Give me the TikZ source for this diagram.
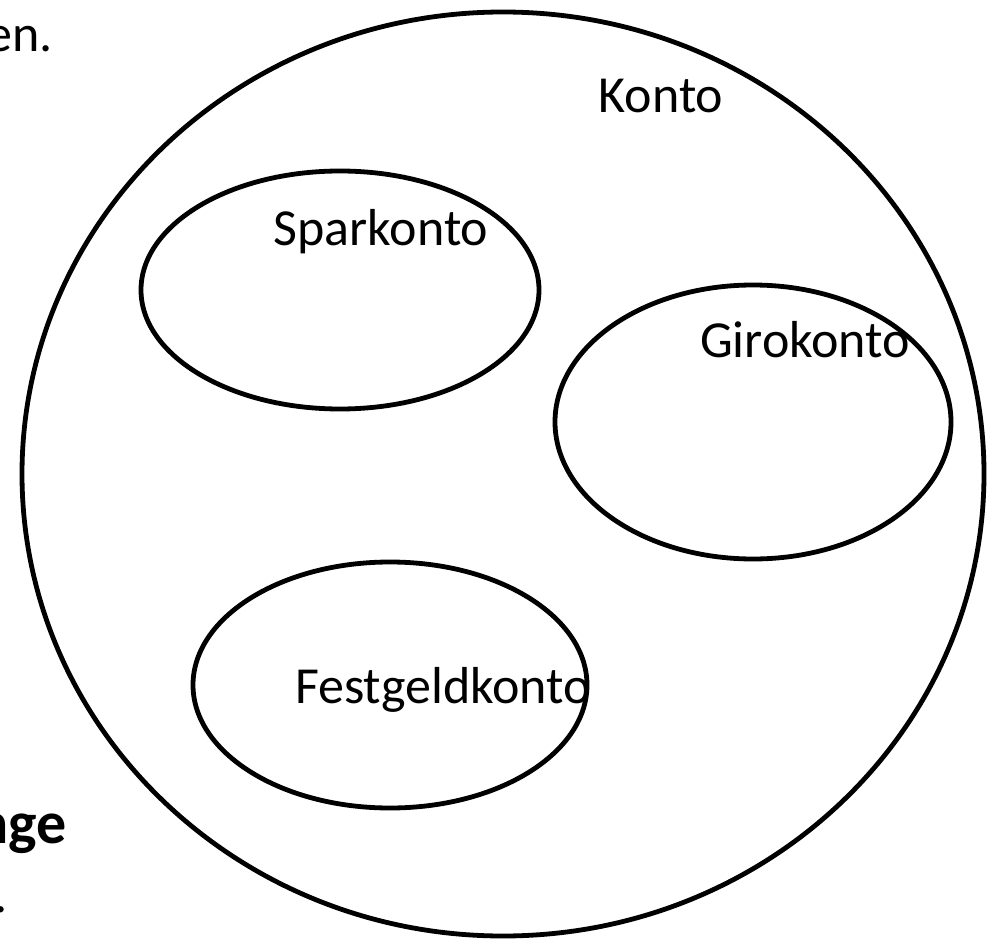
\documentclass[tikz,border=0pt]{standalone}
\usepackage{fontspec}
\setmainfont{Carlito}
\usetikzlibrary{shapes.geometric}
\begin{document}
\begin{tikzpicture}[x=1pt,y=-1pt,
  set/.style={draw=black,line width=4.8pt,ellipse,inner sep=0pt},
  lbl/.style={inner sep=0pt,font=\fontsize{52}{62}\selectfont},
  cut/.style={inner sep=0pt,font=\fontsize{52}{62}\selectfont}]
\useasboundingbox (0,0) rectangle (991,939);
\node[set,minimum width=962pt,minimum height=924pt] (konto) at (503,474) {};
\node[set,minimum width=398pt,minimum height=238pt] (spar) at (340,290) {};
\node[set,minimum width=396pt,minimum height=274pt] (giro) at (753,422) {};
\node[set,minimum width=394pt,minimum height=246pt] (fest) at (390,685) {};
\node[lbl,anchor=center] (tkonto) at (661,96) {Konto};
\node[lbl,anchor=center] (tspar) at (381,232) {Sparkonto};
\node[lbl,anchor=center] (tgiro) at (805,340) {Girokonto};
\node[lbl,anchor=center] (tfest) at (443,690) {Festgeldkonto};
\node[cut,anchor=base east] (ten) at (53,52) {en.};
\node[cut,anchor=base east,font=\fontsize{60}{70}\selectfont\bfseries] (tge) at (67,843) {nge};
\node[cut,anchor=base east] (tdot) at (8,912) {.};
\end{tikzpicture}
\end{document}
